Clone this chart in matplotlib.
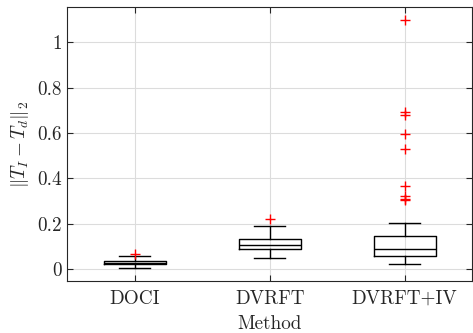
import matplotlib

matplotlib.use("Agg")
import matplotlib.pyplot as plt

plt.rcParams.update(
    {
        "font.family": "serif",
        "font.serif": ["cmr10"],
        "mathtext.fontset": "cm",
        "axes.formatter.use_mathtext": True,
        "font.size": 13.8,
    }
)

methods = ["DOCI", "DVRFT", "DVRFT+IV"]
whislo = [0.004, 0.050, 0.023]
q1 = [0.021, 0.091, 0.058]
med = [0.029, 0.106, 0.091]
q3 = [0.038, 0.134, 0.145]
whishi = [0.057, 0.190, 0.203]
fliers = [
    [0.069],
    [0.222],
    [1.098, 0.693, 0.679, 0.594, 0.529, 0.365, 0.324, 0.310, 0.304],
]

stats = [
    {"whislo": a, "q1": b, "med": c, "q3": d, "whishi": e, "fliers": f}
    for a, b, c, d, e, f in zip(whislo, q1, med, q3, whishi, fliers)
]

fig = plt.figure(figsize=(4.73, 3.33), dpi=100)
ax = fig.add_axes([0.142, 0.156, 0.856, 0.823])

ax.bxp(
    stats,
    positions=[1, 2, 3],
    widths=0.46,
    boxprops=dict(color="black", lw=1.0),
    medianprops=dict(color="black", lw=1.0),
    whiskerprops=dict(color="black", lw=1.0),
    capprops=dict(color="black", lw=1.0),
    capwidths=0.23,
    flierprops=dict(marker="+", markeredgecolor="red", markersize=7, lw=0),
)

ax.set_xlim(0.5, 3.5)
ax.set_ylim(-0.052, 1.155)
ax.set_xticks([1, 2, 3], methods)
ax.set_yticks([0, 0.2, 0.4, 0.6, 0.8, 1], ["0", "0.2", "0.4", "0.6", "0.8", "1"])
ax.grid(True, color="#dcdcdc", lw=0.8)
ax.set_axisbelow(True)
ax.tick_params(direction="in", length=4, color="#262626", labelcolor="#262626",
               top=True, right=True)
ax.tick_params(axis="x", pad=6.5)
ax.tick_params(axis="y", pad=4)
for s in ax.spines.values():
    s.set_color("#262626")
ax.set_xlabel("Method", color="#262626", labelpad=5)
ax.set_ylabel(r"$\|T_I - T_d\|_2$", color="#262626", labelpad=4)

fig.savefig("out.png")
